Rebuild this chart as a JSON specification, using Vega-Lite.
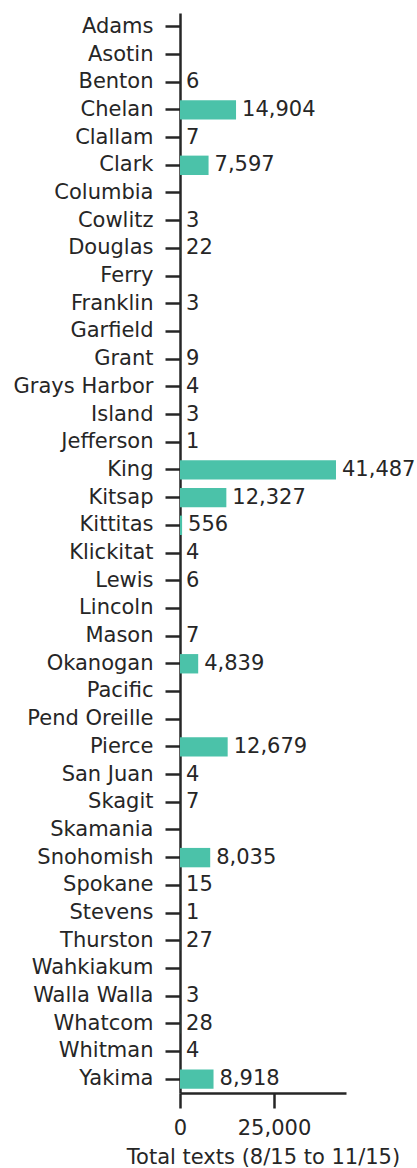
{
  "$schema": "https://vega.github.io/schema/vega-lite/v6.json",
  "autosize": {"type": "none"},
  "width": 166,
  "height": 1080,
  "padding": {"left": 180, "top": 13, "right": 71, "bottom": 75},
  "config": {
    "view": {"stroke": null},
    "font": "DejaVu Sans",
    "axis": {
      "labelFont": "DejaVu Sans", "titleFont": "DejaVu Sans",
      "labelFontSize": 21, "titleFontSize": 21,
      "labelColor": "#262626", "titleColor": "#262626",
      "domainColor": "#262626", "tickColor": "#262626",
      "domainWidth": 2.5, "tickWidth": 2.5, "tickSize": 15,
      "labelPadding": 10, "grid": false, "titleFontWeight": "normal"
    }
  },
  "data": {"values": [
    {"county": "Adams", "v": 0},
    {"county": "Asotin", "v": 0},
    {"county": "Benton", "v": 6},
    {"county": "Chelan", "v": 14904},
    {"county": "Clallam", "v": 7},
    {"county": "Clark", "v": 7597},
    {"county": "Columbia", "v": 0},
    {"county": "Cowlitz", "v": 3},
    {"county": "Douglas", "v": 22},
    {"county": "Ferry", "v": 0},
    {"county": "Franklin", "v": 3},
    {"county": "Garfield", "v": 0},
    {"county": "Grant", "v": 9},
    {"county": "Grays Harbor", "v": 4},
    {"county": "Island", "v": 3},
    {"county": "Jefferson", "v": 1},
    {"county": "King", "v": 41487},
    {"county": "Kitsap", "v": 12327},
    {"county": "Kittitas", "v": 556},
    {"county": "Klickitat", "v": 4},
    {"county": "Lewis", "v": 6},
    {"county": "Lincoln", "v": 0},
    {"county": "Mason", "v": 7},
    {"county": "Okanogan", "v": 4839},
    {"county": "Pacific", "v": 0},
    {"county": "Pend Oreille", "v": 0},
    {"county": "Pierce", "v": 12679},
    {"county": "San Juan", "v": 4},
    {"county": "Skagit", "v": 7},
    {"county": "Skamania", "v": 0},
    {"county": "Snohomish", "v": 8035},
    {"county": "Spokane", "v": 15},
    {"county": "Stevens", "v": 1},
    {"county": "Thurston", "v": 27},
    {"county": "Wahkiakum", "v": 0},
    {"county": "Walla Walla", "v": 3},
    {"county": "Whatcom", "v": 28},
    {"county": "Whitman", "v": 4},
    {"county": "Yakima", "v": 8918}
  ]},
  "encoding": {
    "y": {
      "field": "county", "type": "nominal", "sort": null,
      "scale": {"paddingInner": 0.3, "paddingOuter": 0.15},
      "axis": {"title": null, "labelPadding": 12}
    },
    "x": {
      "field": "v", "type": "quantitative",
      "scale": {"domain": [0, 44150], "nice": false},
      "axis": {"title": "Total texts (8/15 to 11/15)", "values": [0, 25000], "format": ",.0f", "labelFlush": false, "titlePadding": 8, "labelPadding": 9}
    }
  },
  "layer": [
    {"mark": {"type": "bar", "color": "#4bc2a9"}},
    {
      "transform": [{"filter": "datum.v > 0"}],
      "mark": {"type": "text", "align": "left", "baseline": "middle", "dx": 6, "fontSize": 21, "color": "#262626", "font": "DejaVu Sans"},
      "encoding": {"text": {"field": "v", "type": "quantitative", "format": ",.0f"}}
    }
  ]
}
